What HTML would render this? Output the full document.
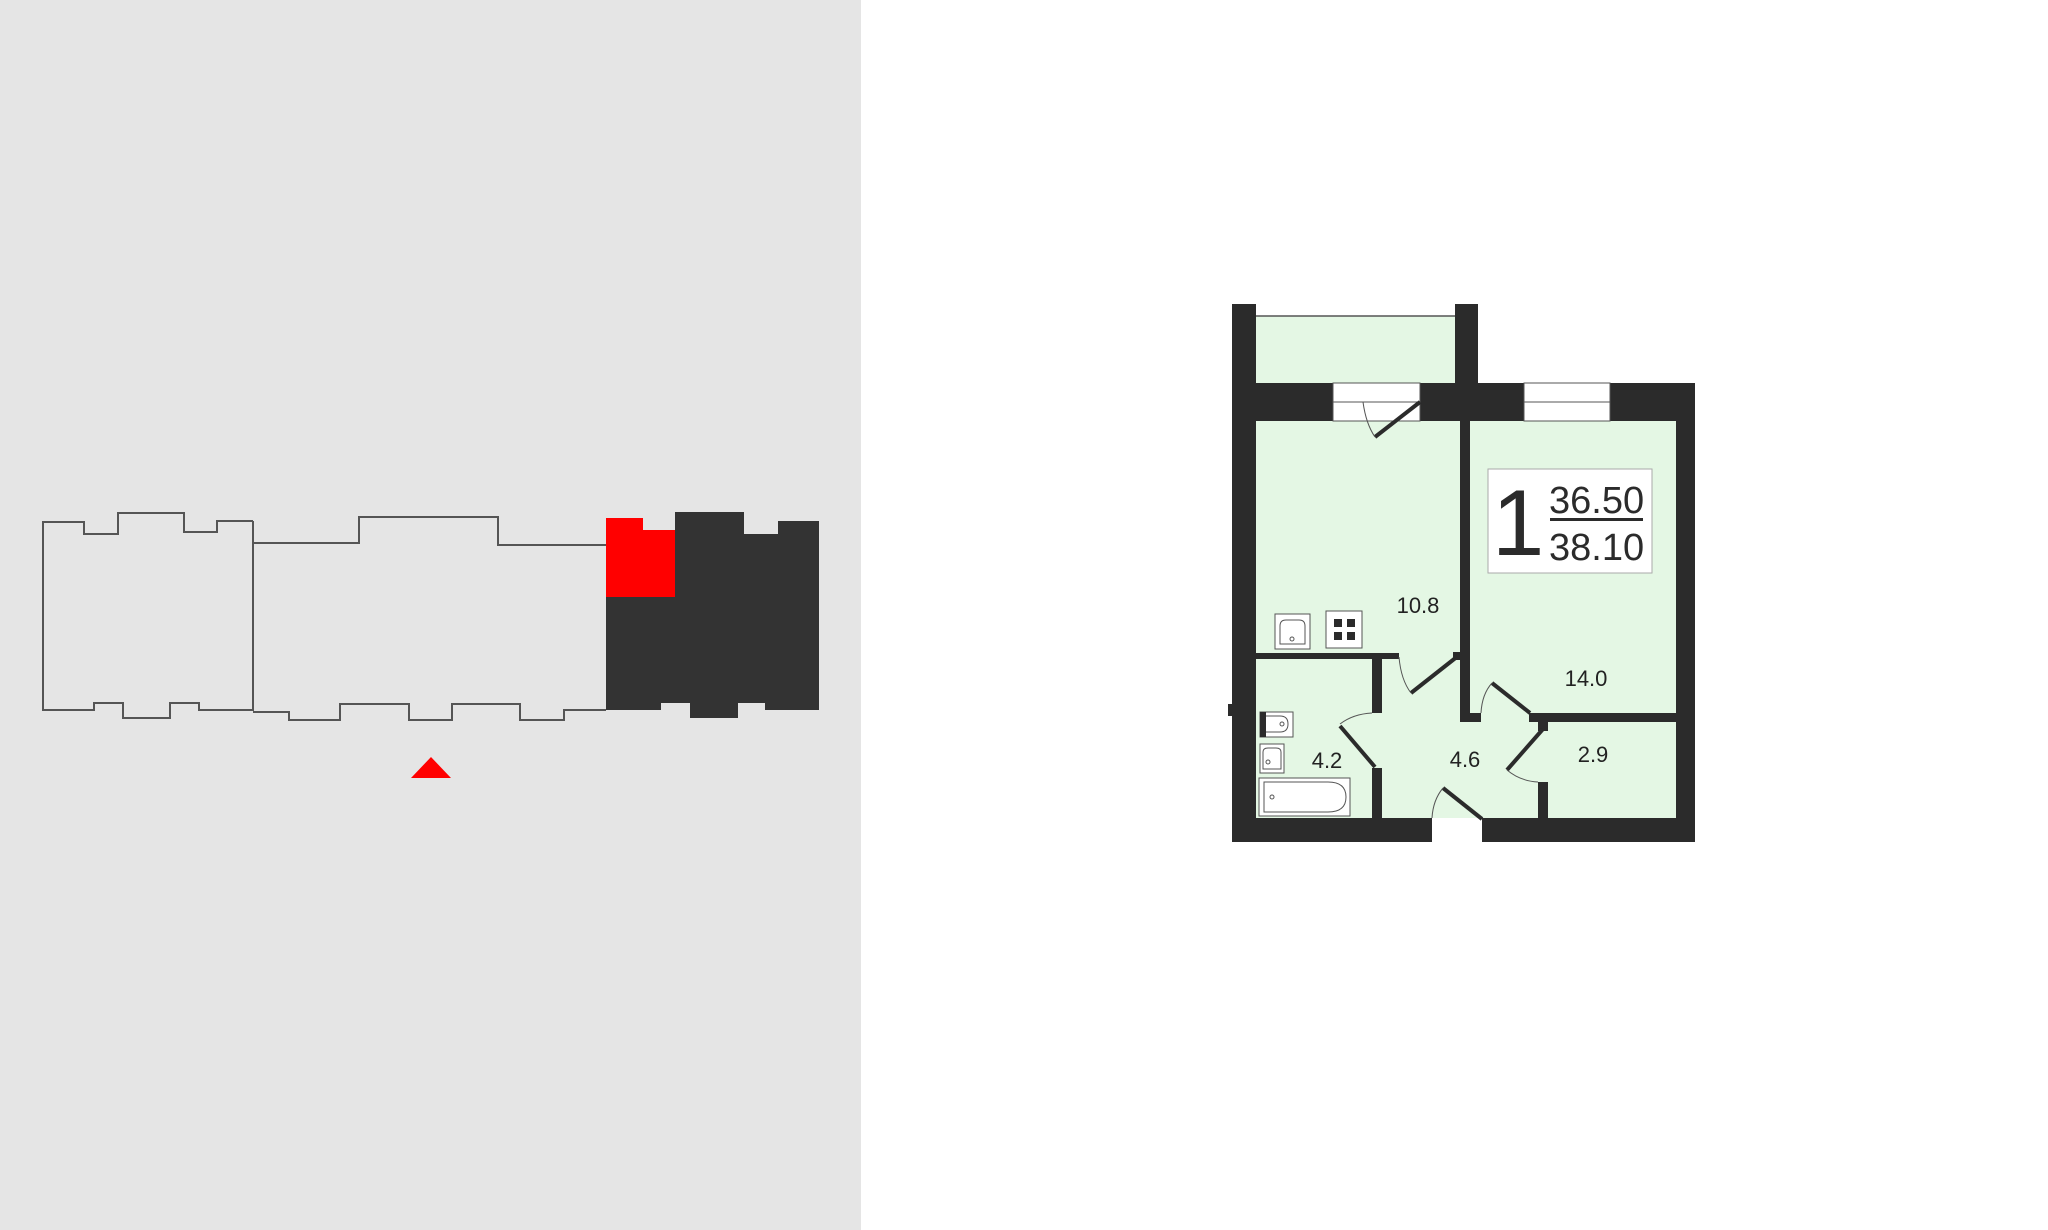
<!DOCTYPE html>
<html><head><meta charset="utf-8"><style>
html,body{margin:0;padding:0;background:#fff;}
svg{display:block}
text{font-family:"Liberation Sans","DejaVu Sans",sans-serif;}
</style></head><body>
<svg width="2048" height="1230" viewBox="0 0 2048 1230" xmlns="http://www.w3.org/2000/svg">
<rect x="0" y="0" width="861" height="1230" fill="#e5e5e5"/>
<g fill="none" stroke="#555" stroke-width="2">
<polyline points="253,521 217,521 217,532 184,532 184,513 118,513 118,534 84,534 84,522 43,522 43,710 94,710 94,703 123,703 123,718 170,718 170,703 199,703 199,710 253,710 253,521"/>
<polyline points="253,543 359,543 359,517 498,517 498,545 606,545"/>
<polyline points="253,712 289,712 289,720 340,720 340,704 409,704 409,720 452,720 452,704 520,704 520,720 564,720 564,710 606,710"/>
</g>
<polygon fill="#333" points="606,597 675,597 675,512 744,512 744,534 778,534 778,521 819,521 819,710 765,710 765,703 738,703 738,718 690,718 690,703 661,703 661,710 606,710"/>
<polygon fill="#ff0000" points="606,518 643,518 643,530 675,530 675,597 606,597"/>
<polygon fill="#ff0000" points="431,757 451,778 411,778"/>

<g fill="#e4f7e4">
<rect x="1256" y="316" width="199" height="67"/>
<rect x="1256" y="421" width="420" height="397"/>
</g>
<line x1="1256" y1="316" x2="1455" y2="316" stroke="#555" stroke-width="1.5"/>
<g fill="#2b2b2b">
<rect x="1232" y="304" width="24" height="538"/>
<rect x="1455" y="304" width="23" height="79"/>
<rect x="1232" y="383" width="463" height="38"/>
<rect x="1676" y="383" width="19" height="459"/>
<rect x="1232" y="818" width="200" height="24"/>
<rect x="1482" y="818" width="213" height="24"/>
<rect x="1460" y="421" width="10" height="301"/>
<rect x="1460" y="713" width="21" height="9"/>
<rect x="1453" y="652" width="9" height="8"/>
<rect x="1256" y="653" width="143" height="6"/>
<rect x="1372" y="653" width="10" height="60"/>
<rect x="1372" y="768" width="10" height="50"/>
<rect x="1529" y="713" width="147" height="9"/>
<rect x="1538" y="713" width="10" height="18"/>
<rect x="1538" y="782" width="10" height="36"/>
<rect x="1228" y="704" width="4" height="12"/>
</g>
<g fill="#fff" stroke="#555" stroke-width="1">
<rect x="1333" y="383" width="87" height="38"/>
<rect x="1524" y="383" width="86" height="38"/>
<line x1="1333" y1="402" x2="1420" y2="402"/>
<line x1="1524" y1="402" x2="1610" y2="402"/>
</g>
<g stroke="#2b2b2b" stroke-width="4" fill="none">
<line x1="1375" y1="437" x2="1420" y2="402"/>
<line x1="1411" y1="693" x2="1458" y2="656"/>
<line x1="1492" y1="683" x2="1530" y2="713"/>
<line x1="1340" y1="726" x2="1375" y2="767"/>
<line x1="1543" y1="729" x2="1507" y2="770"/>
<line x1="1443" y1="788" x2="1482" y2="819"/>
</g>
<g stroke="#555" stroke-width="1" fill="none">
<path d="M1363,402 Q1366,424 1375,437"/>
<path d="M1399,657 Q1401,680 1411,693"/>
<path d="M1481,713 Q1482,694 1492,683"/>
<path d="M1340,724 Q1353,714 1372,713"/>
<path d="M1507,770 Q1520,781 1538,782"/>
<path d="M1443,788 Q1433,800 1432,818"/>
</g>
<g stroke="#555" stroke-width="1" fill="#fff">
<rect x="1275" y="614" width="35" height="35"/>
<path d="M1280,644 L1280,626 Q1280,620 1286,620 L1299,620 Q1305,620 1305,626 L1305,644 Z" fill="none"/>
<circle cx="1292" cy="639" r="2" fill="none"/>
<rect x="1326" y="611" width="36" height="37"/>
<rect x="1260" y="712" width="33" height="25"/>
<path d="M1266,716 L1280,716 Q1288,716 1288,724 Q1288,732 1280,732 L1266,732" fill="none"/>
<circle cx="1282" cy="724" r="2" fill="none"/>
<rect x="1260" y="744" width="24" height="29"/>
<path d="M1263,769 L1263,752 Q1263,748 1268,748 L1276,748 Q1281,748 1281,752 L1281,769 Z" fill="none"/>
<circle cx="1268" cy="762" r="2" fill="none"/>
<rect x="1259" y="778" width="91" height="38"/>
<path d="M1264,782 L1328,782 Q1346,782 1346,797 Q1346,812 1328,812 L1264,812 Z" fill="none"/>
<circle cx="1272" cy="797" r="2" fill="none"/>
</g>
<g fill="#2b2b2b">
<rect x="1334" y="619" width="8" height="8"/><rect x="1347" y="619" width="8" height="8"/>
<rect x="1334" y="632" width="8" height="8"/><rect x="1347" y="632" width="8" height="8"/>
<rect x="1260" y="712" width="6" height="25"/>
</g>
<rect x="1488" y="469" width="164" height="104" fill="#fff" stroke="#aaa" stroke-width="1"/>
<text x="1492" y="555" font-size="94" fill="#2b2b2b">1</text>
<text x="1549" y="513" font-size="38" fill="#2b2b2b">36.50</text>
<rect x="1550" y="518" width="93" height="3" fill="#2b2b2b"/>
<text x="1549" y="560" font-size="38" fill="#2b2b2b">38.10</text>
<g font-size="22" fill="#222" text-anchor="middle">
<text x="1418" y="613">10.8</text>
<text x="1586" y="686">14.0</text>
<text x="1593" y="762">2.9</text>
<text x="1465" y="767">4.6</text>
<text x="1327" y="768">4.2</text>
</g>
</svg>
</body></html>
